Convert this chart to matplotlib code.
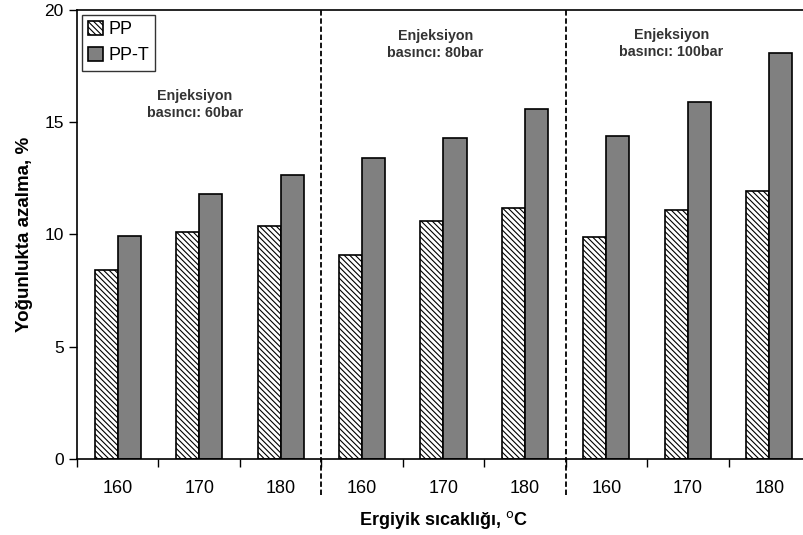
import matplotlib
matplotlib.use("Agg")
import matplotlib.pyplot as plt
import numpy as np

plt.rcParams['font.family'] = ['Liberation Sans', 'DejaVu Sans']
plt.rcParams['hatch.linewidth'] = 0.8

temps = ["160", "170", "180", "160", "170", "180", "160", "170", "180"]
pp = [8.4, 10.1, 10.4, 9.1, 10.6, 11.2, 9.9, 11.1, 11.95]
ppt = [9.95, 11.8, 12.65, 13.4, 14.3, 15.6, 14.4, 15.9, 18.1]
group_labels = ["Enjeksiyon\nbasıncı: 60bar", "Enjeksiyon\nbasıncı: 80bar", "Enjeksiyon\nbasıncı: 100bar"]

fig = plt.figure(figsize=(8.04, 5.35), dpi=100)
ax = fig.add_axes([77/804, 1-459/535, 733/804, 449/535])

x = np.arange(len(temps))
w = 0.283
ax.bar(x - w/2, pp, w, color='white', edgecolor='black', hatch='\\\\\\\\\\\\', linewidth=1.2, label='PP')
ax.bar(x + w/2, ppt, w, color='#808080', edgecolor='black', linewidth=1.2, label='PP-T')

ax.set_xlim(-0.5, len(temps) - 0.5)
ax.set_ylim(0, 20)
ax.set_yticks([0, 5, 10, 15, 20])
ax.set_xticks(x)
ax.set_xticklabels(temps)
ax.set_xticks(np.arange(-0.5, len(temps), 1.0), minor=True)
ax.tick_params(axis='x', which='major', length=0, labelsize=13, pad=15)
ax.tick_params(axis='x', which='minor', length=6, width=1, direction='out')
ax.tick_params(axis='y', length=6, width=1, direction='out', labelsize=12.5)
ax.spines['right'].set_visible(False)
for s in ['left', 'top', 'bottom']:
    ax.spines[s].set_linewidth(1.2)

for xv in [2.5, 5.5]:
    ax.plot([xv, xv], [-0.08, 1.0], transform=ax.get_xaxis_transform(), color='black',
            linestyle=(0, (3, 1.5)), linewidth=1.3, clip_on=False)

label_pos = [(0.95, 16.5), (3.9, 19.15), (6.8, 19.2)]
for lab, (lx, ly) in zip(group_labels, label_pos):
    ax.text(lx, ly, lab, ha='center', va='top', fontsize=10.3, fontweight='bold',
            color='#333333', linespacing=1.3)

ax.set_ylabel("Yoğunlukta azalma, %", fontsize=13.5, fontweight='bold', labelpad=8)
ax.set_xlabel("Ergiyik sıcaklığı, $^{\\mathrm{o}}$C", fontsize=13, fontweight='bold', labelpad=9)

leg = ax.legend(loc='upper left', bbox_to_anchor=(0.002, 0.998), fontsize=13, frameon=True,
                fancybox=False, edgecolor='black', handlelength=0.8, handleheight=0.8,
                handletextpad=0.3, borderpad=0.35, labelspacing=0.5, borderaxespad=0.2)
leg.get_frame().set_linewidth(1.0)

fig.savefig("out.png", dpi=100)
